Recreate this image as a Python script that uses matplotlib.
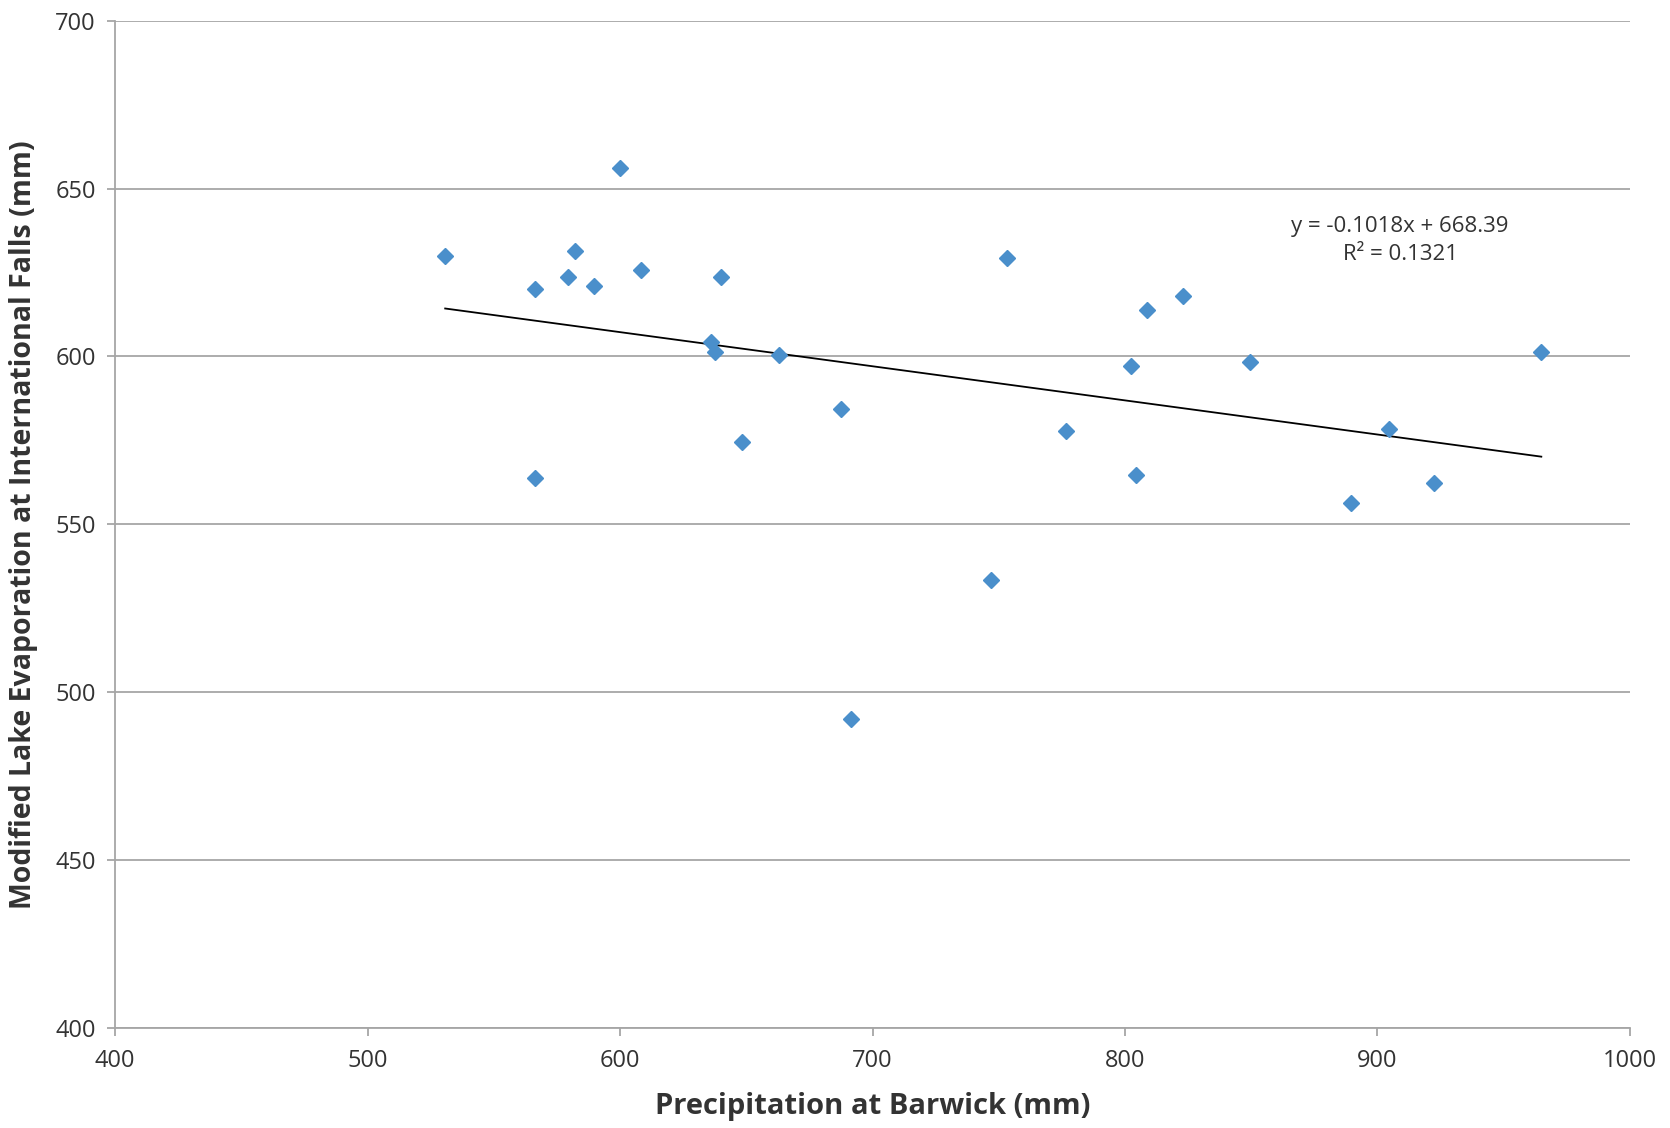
import numpy as np
import matplotlib.pyplot as plt

# precipitation at Barwick (mm) and modified lake evaporation (mm)
precip = [530.7, 566.1, 566.1, 579.2, 582.1, 589.7, 599.8, 608.3, 636.1, 637.4,
          639.9, 648.3, 663.1, 687.5, 691.3, 747.0, 753.3, 776.5, 802.2, 804.3,
          808.9, 822.8, 849.4, 889.5, 904.6, 922.3, 964.9]
evap = [629.9, 620.1, 563.9, 623.6, 631.5, 621.0, 656.2, 625.8, 604.2, 601.4,
        623.6, 574.4, 600.4, 584.2, 491.9, 533.5, 629.3, 577.9, 597.2, 564.6,
        613.7, 617.9, 598.2, 556.3, 578.5, 562.4, 601.4]
eq_text = "y = -0.1018x + 668.39\nR² = 0.1321"

plt.rcParams['font.family'] = ['Open Sans', 'DejaVu Sans']

fig = plt.figure(figsize=(16.7, 11.28), dpi=100)
ax = fig.add_axes([0.069, 0.0887, 0.907, 0.893])

ax.grid(axis='y', color='#a6a6a6', linewidth=1.3)
ax.set_axisbelow(True)

ax.plot(precip, evap, linestyle='none', marker='D', markersize=8.5,
        color='#4a8fcb', zorder=3)

# linear trendline
m, b = np.polyfit(precip, evap, 1)
xs = np.array([min(precip), max(precip)])
ax.plot(xs, m * xs + b, color='black', linewidth=1.3, zorder=2)
ax.text(909, 634.5, eq_text, ha='center', va='center', fontsize=16,
        color='#333333', linespacing=1.4, multialignment='center')

ax.set_xlim(400, 1000)
ax.set_ylim(400, 700)
ax.set_xticks(range(400, 1001, 100))
ax.set_yticks(range(400, 701, 50))

for s in ['top', 'right']:
    ax.spines[s].set_visible(False)
for s in ['left', 'bottom']:
    ax.spines[s].set_color('#a6a6a6')
    ax.spines[s].set_linewidth(1.3)
ax.tick_params(axis='both', colors='#a6a6a6', labelcolor='#333333',
               labelsize=17, length=6, width=1.3)
ax.tick_params(axis='x', pad=9)
ax.tick_params(axis='y', pad=8)

ax.set_xlabel('Precipitation at Barwick (mm)', fontsize=21, fontweight='bold',
              color='#333333', labelpad=14)
ax.set_ylabel('Modified Lake Evaporation at International Falls (mm)', fontsize=20.5,
              fontweight='bold', color='#333333', labelpad=12)

fig.savefig('out.png', dpi=100)
